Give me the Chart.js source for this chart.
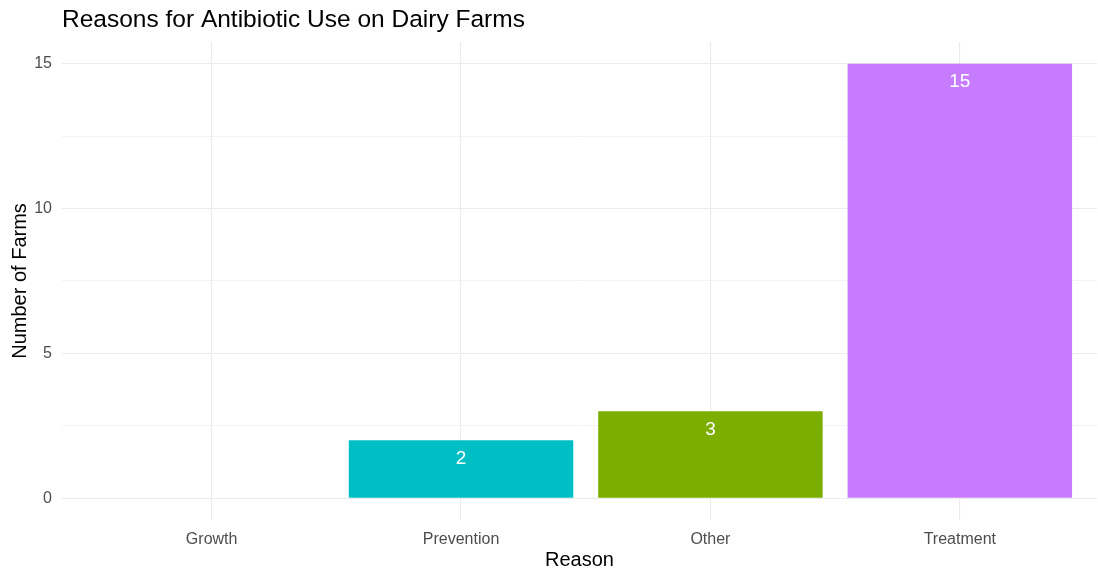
<!DOCTYPE html>
<html>
<head>
<meta charset="utf-8">
<script src="https://cdn.jsdelivr.net/npm/chart.js@4"></script>
<style>
  html, body { margin: 0; padding: 0; background: #fff; }
  #wrap { width: 1098px; height: 572px; }
</style>
</head>
<body>
<div id="wrap"><canvas id="bar-chart"></canvas></div>
<script>
// data
const reasons = ["Growth", "Prevention", "Other", "Treatment"];
const farmCounts = [null, 2, 3, 15];
const barColors = ['#F8766D', '#00BFC4', '#7CAE00', '#C77CFF'];
const yTickLabels = [0, 5, 10, 15];

const font = "'Liberation Sans', Arial, sans-serif";
Chart.defaults.font.family = font;

// white count labels inside the top of each bar
const valueLabels = {
    id: 'valueLabels',
    afterDatasetsDraw(chart) {
        const ctx = chart.ctx;
        const meta = chart.getDatasetMeta(0);
        ctx.save();
        ctx.fillStyle = '#ffffff';
        ctx.font = '19px ' + font;
        ctx.textAlign = 'center';
        ctx.textBaseline = 'middle';
        meta.data.forEach((bar, i) => {
            const v = farmCounts[i];
            if (v === null) return;
            ctx.fillText(String(v), bar.x, bar.y + 18);
        });
        ctx.restore();
    }
};

const ctz = document.getElementById('bar-chart');

new Chart(ctz, {
    type: 'bar',
    data: {
        datasets: [{
            label: 'Number of Farms',
            data: reasons.map((r, i) => ({ x: i, y: farmCounts[i] })),
            backgroundColor: barColors,
            borderWidth: 0,
            barPercentage: 0.9,
            categoryPercentage: 1
        }]
    },
    options: {
        responsive: true,
        maintainAspectRatio: false,
        animation: false,
        layout: { padding: { top: 0, left: 0, right: 1, bottom: 0 } },
        plugins: {
            legend: { display: false },
            tooltip: { enabled: false },
            title: {
                display: true,
                text: 'Reasons for Antibiotic Use on Dairy Farms',
                align: 'start',
                fullSize: false,
                color: '#000000',
                font: { size: 24.5, weight: 'normal' },
                padding: { top: 5.5, bottom: 7 }
            }
        },
        scales: {
            x: {
                type: 'linear',
                min: -0.6,
                max: 3.55,
                offset: false,
                border: { display: false },
                grid: {
                    color: '#ebebeb',
                    lineWidth: 1.1,
                    drawTicks: false,
                    offset: false
                },
                ticks: {
                    stepSize: 1,
                    includeBounds: false,
                    autoSkip: false,
                    maxRotation: 0,
                    padding: 10,
                    color: '#4d4d4d',
                    font: { size: 16 },
                    callback: (v) => Number.isInteger(v) && reasons[v] !== undefined ? reasons[v] : ''
                },
                title: {
                    display: true,
                    text: 'Reason',
                    color: '#000000',
                    font: { size: 20 },
                    padding: { top: 0, bottom: 0 }
                },
                afterFit(scale) { scale.height = 52; }
            },
            y: {
                min: -0.75,
                max: 15.75,
                border: { display: false },
                grid: {
                    color: '#ebebeb',
                    lineWidth: (c) => (c.tick && c.tick.value % 5 === 0) ? 1.1 : 0.6,
                    drawTicks: false
                },
                ticks: {
                    stepSize: 2.5,
                    includeBounds: false,
                    padding: 10,
                    color: '#4d4d4d',
                    font: { size: 16 },
                    callback: (v) => yTickLabels.includes(v) ? String(v) : ''
                },
                title: {
                    display: true,
                    text: 'Number of Farms',
                    color: '#000000',
                    font: { size: 20 },
                    padding: { top: 8, bottom: 0 }
                },
                afterFit(scale) { scale.width = 62; }
            }
        }
    },
    plugins: [valueLabels]
});
</script>
</body>
</html>
